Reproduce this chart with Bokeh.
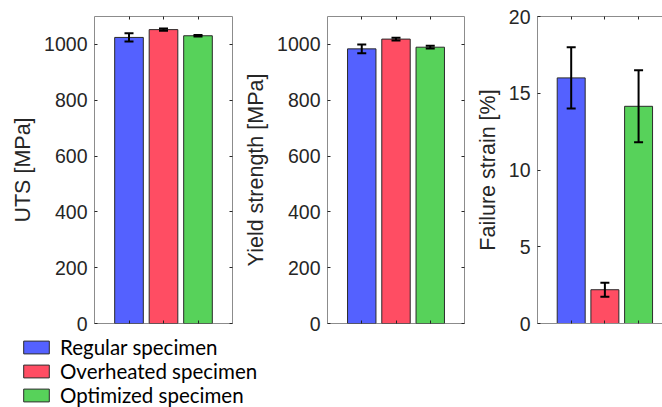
from bokeh.plotting import figure
from bokeh.layouts import row, column
from bokeh.models import (ColumnDataSource, Range1d, LinearAxis, FixedTicker,
                          Whisker, TeeHead, Legend, LegendItem, CustomJSTickFormatter)
from bokeh.embed import file_html
from bokeh.resources import INLINE

categories = ["Regular specimen", "Overheated specimen", "Optimized specimen"]
colors = ["#5461FF", "#FF4D63", "#57D25A"]
positions = [1, 2, 3]

uts = [1025, 1053, 1031]
uts_err = [15, 4, 3]
yield_strength = [984, 1019, 990]
yield_err = [16, 5, 5]
failure_strain = [16.0, 2.2, 14.15]
failure_err = [2.0, 0.45, 2.35]

panels = [
    ("UTS [MPa]", uts, uts_err, 1100, [0, 200, 400, 600, 800, 1000]),
    ("Yield strength [MPa]", yield_strength, yield_err, 1100, [0, 200, 400, 600, 800, 1000]),
    ("Failure strain [%]", failure_strain, failure_err, 20, [0, 5, 10, 15, 20]),
]

TICK_FONT = "19.5px"
LABEL_FONT = "21.5px"
TXT = "#262626"
BOX = "#8c8c8c"

geom = [
    dict(width=240, left=94, right=8, xmax=4.0, box=True),
    dict(width=232, left=87, right=8, xmax=4.0, box=True),
    dict(width=190, left=62, right=0, xmax=3.71, box=False),
]


def blank_axis(ticks):
    ax = LinearAxis(ticker=FixedTicker(ticks=ticks),
                    formatter=CustomJSTickFormatter(code="return ''"))
    ax.major_label_text_font_size = "1px"
    ax.major_label_standoff = 0
    ax.major_tick_in = 3
    ax.major_tick_out = 0
    ax.minor_tick_in = 0
    ax.minor_tick_out = 0
    ax.major_tick_line_color = TXT
    ax.axis_line_color = None
    return ax


figs = []
for (label, vals, errs, ymax, yticks), g in zip(panels, geom):
    p = figure(width=g["width"], height=338, output_backend="svg",
               toolbar_location=None, x_range=Range1d(0, g["xmax"]),
               y_range=Range1d(0, ymax), x_axis_location=None, y_axis_location=None,
               min_border_left=g["left"], min_border_right=g["right"],
               min_border_top=16, min_border_bottom=15)
    p.grid.visible = False
    p.background_fill_color = "white"
    p.border_fill_color = "white"
    if g["box"]:
        p.outline_line_color = BOX
        p.outline_line_width = 1
    else:
        p.outline_line_color = None

    src = ColumnDataSource(dict(x=positions, top=vals, color=colors,
                                upper=[v + e for v, e in zip(vals, errs)],
                                lower=[v - e for v, e in zip(vals, errs)]))
    p.vbar(x="x", top="top", width=0.83, bottom=0, fill_color="color",
           line_color="#2a2a2a", line_width=1, source=src)
    w = Whisker(base="x", upper="upper", lower="lower", source=src,
                level="overlay", line_color="black", line_width=2,
                upper_head=TeeHead(size=9, line_color="black", line_width=2),
                lower_head=TeeHead(size=9, line_color="black", line_width=2))
    p.add_layout(w)

    yax = LinearAxis(ticker=FixedTicker(ticks=yticks), axis_label=label)
    yax.major_label_text_font = "Liberation Sans"
    yax.major_label_text_font_size = TICK_FONT
    yax.major_label_text_color = TXT
    yax.axis_label_text_font = "Liberation Sans"
    yax.axis_label_text_font_size = LABEL_FONT
    yax.axis_label_text_font_style = "normal"
    yax.axis_label_text_color = TXT
    yax.axis_label_standoff = 6
    yax.major_label_standoff = 7
    yax.major_tick_in = 3
    yax.major_tick_out = 0
    yax.minor_tick_in = 0
    yax.minor_tick_out = 0
    yax.major_tick_line_color = TXT
    yax.axis_line_color = None if g["box"] else BOX
    p.add_layout(yax, "left")

    top_ax = blank_axis(positions)
    bot_ax = blank_axis(positions)
    if not g["box"]:
        top_ax.axis_line_color = BOX
        bot_ax.axis_line_color = BOX
    p.add_layout(top_ax, "above")
    p.add_layout(bot_ax, "below")
    if g["box"]:
        p.add_layout(blank_axis(yticks), "right")
    figs.append(p)

# Legend panel (slightly overlapping the transparent bottom border of the row)
lg = figure(width=662, height=75, output_backend="svg", toolbar_location=None,
            x_range=Range1d(0, 1), y_range=Range1d(0, 1),
            x_axis_location=None, y_axis_location=None,
            min_border=0, margin=(-6, 0, 0, 0))
lg.grid.visible = False
lg.outline_line_color = None
lg.background_fill_alpha = 0
lg.border_fill_alpha = 0
nan = float("nan")
items = []
for cat, col in zip(categories, colors):
    r = lg.vbar(x=[nan], top=[nan], width=0.5, fill_color=col, line_color="#2a2a2a", line_width=1)
    items.append(LegendItem(label=cat, renderers=[r]))
legend = Legend(items=items, location=(20, 0), orientation="vertical",
                glyph_width=32, glyph_height=16, label_height=22,
                label_standoff=8, spacing=0, padding=0, margin=0,
                border_line_color=None, background_fill_alpha=0,
                label_text_font="Lato", label_text_font_size="20.5px",
                label_text_color="black")
lg.add_layout(legend)

layout = column(row(*figs, spacing=0), lg, spacing=0)

open("out.html", "w").write(file_html(layout, INLINE))
